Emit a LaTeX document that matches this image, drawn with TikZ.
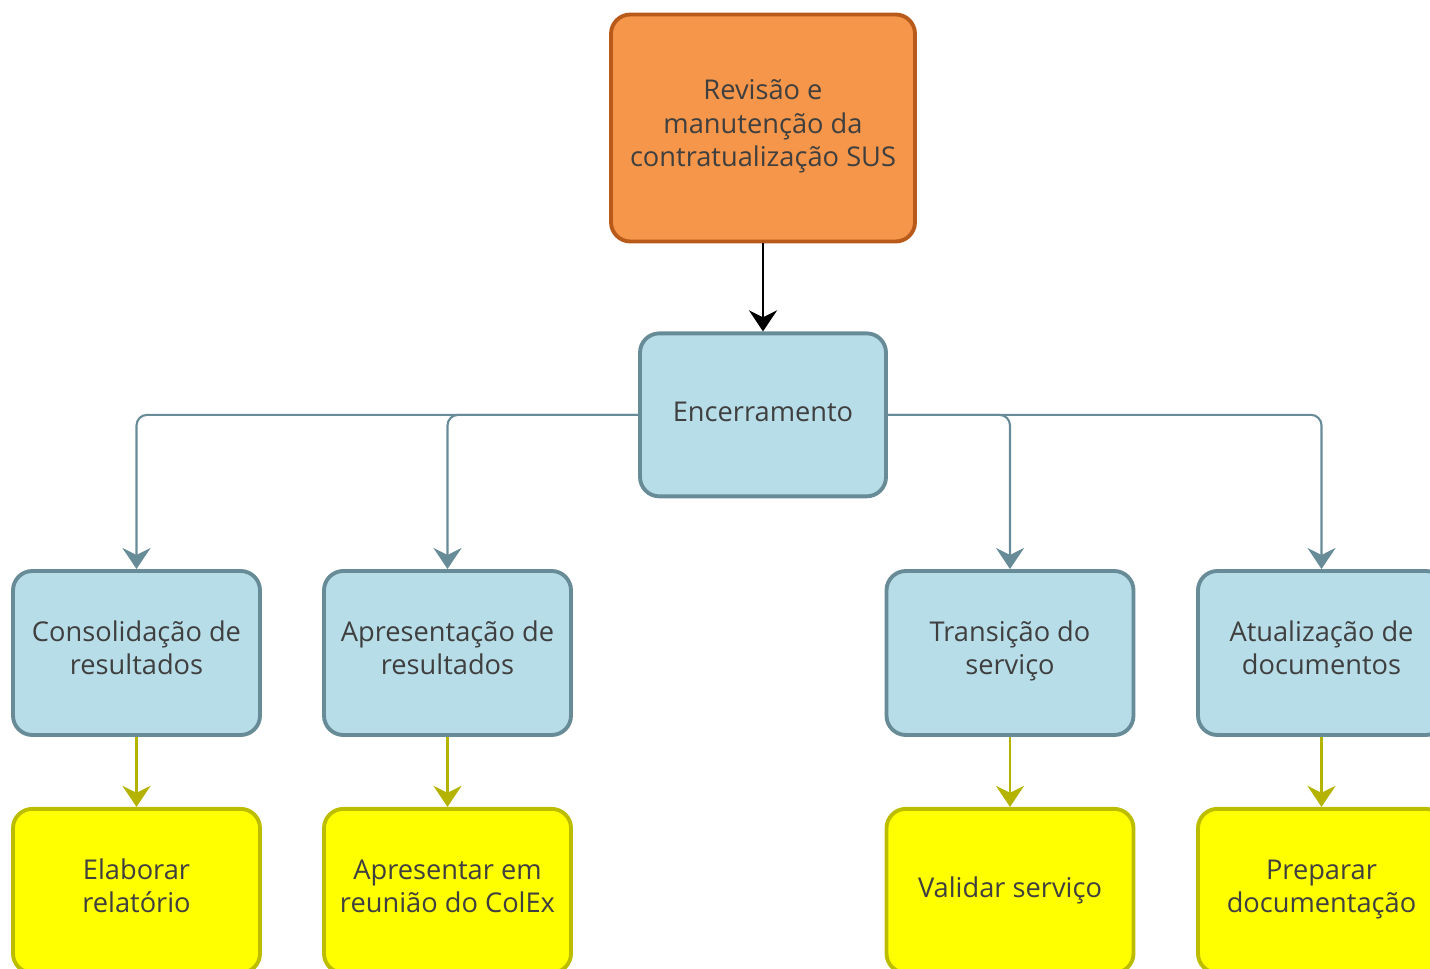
\documentclass[tikz,border=0pt]{standalone}
\usepackage{fontspec}
\setmainfont{Open Sans}
\usetikzlibrary{arrows.meta,positioning}

\definecolor{laranja}{HTML}{F5964A}
\definecolor{laranjaborda}{HTML}{B85A1A}
\definecolor{azul}{HTML}{B7DDE8}
\definecolor{azulborda}{HTML}{678C98}
\definecolor{amarelo}{HTML}{FFFF00}
\definecolor{amareloborda}{HTML}{BDBD00}
\definecolor{texto}{HTML}{3F3F3F}

\begin{document}
\begin{tikzpicture}[node distance=1.5cm,>={Stealth[length=12pt,width=16pt,inset=4pt]},
    font=\fontsize{15.5}{18.8}\selectfont,text=texto]
        \tikzstyle{caixa}=[rectangle,rounded corners=11pt,line width=2.2pt,align=center,
            minimum width=4.94cm,minimum height=3.28cm,execute at end node=\strut]
        \tikzstyle{raiz}=[caixa,draw=laranjaborda,fill=laranja,minimum width=6.08cm,minimum height=4.54cm]
        \tikzstyle{etapa}=[caixa,draw=azulborda,fill=azul]
        \tikzstyle{tarefa}=[caixa,draw=amareloborda,fill=amarelo]
        \tikzstyle{liga}=[->,line width=1.2pt,draw=azulborda,rounded corners=6pt]
        \tikzstyle{ligaamarela}=[->,line width=1.2pt,draw=amareloborda!95!black]
        \useasboundingbox (0,0) rectangle (28.6,-19.38);
        \begin{scope}
        \node[raiz](rev) at (15.26,-2.56){Revisão e\\manutenção da\\contratualização SUS};
        \node[etapa](enc)[below=1.76cm of rev,minimum width=4.92cm,minimum height=3.26cm]{Encerramento};
        % segundo nivel
        \node[etapa](cons) at (2.73,-13.06){Consolidação de\\resultados};
        \node[etapa](apres) at (8.95,-13.06){Apresentação de\\resultados};
        \node[etapa](trans) at (20.2,-13.06){Transição do\\serviço};
        \node[etapa](atual) at (26.43,-13.06){Atualização de\\documentos};
        % terceiro nivel
        \node[tarefa](elab)[below=1.4cm of cons]{Elaborar\\relatório};
        \node[tarefa](reun)[below=1.4cm of apres]{Apresentar em\\reunião do ColEx};
        \node[tarefa](valid)[below=1.4cm of trans]{Validar serviço};
        \node[tarefa](prep)[below=1.4cm of atual]{Preparar\\documentação};
        \end{scope}
        \draw[->,line width=1.3pt] (rev) -- (enc);
        \draw[liga] (enc.west) -| (cons.north);
        \draw[liga] (enc.west) -| (apres.north);
        \draw[liga] (enc.east) -| (trans.north);
        \draw[liga] (enc.east) -| (atual.north);
        \draw[ligaamarela] (cons) -- (elab);
        \draw[ligaamarela] (apres) -- (reun);
        \draw[ligaamarela] (trans) -- (valid);
        \draw[ligaamarela] (atual) -- (prep);
    \end{tikzpicture}
\end{document}
